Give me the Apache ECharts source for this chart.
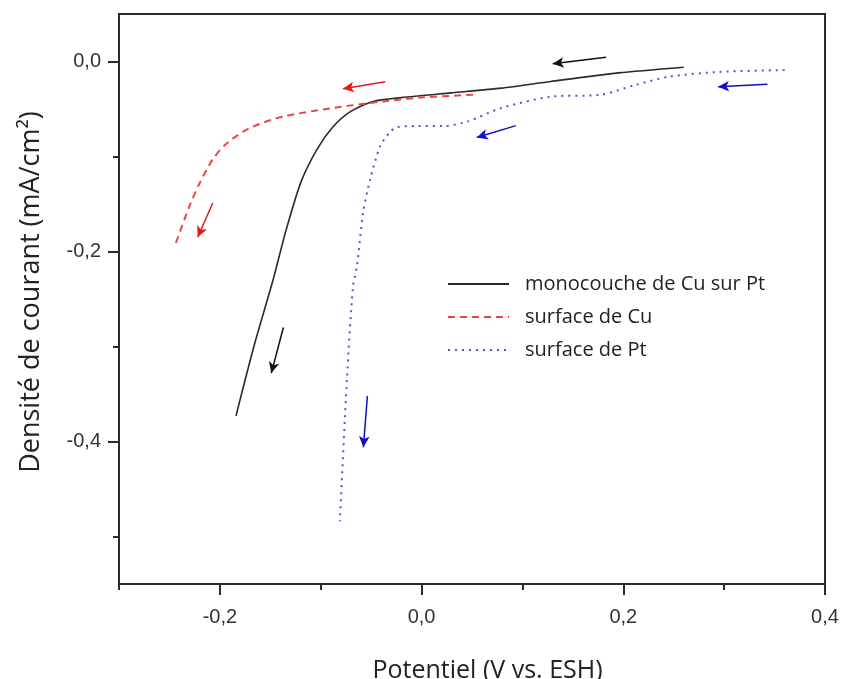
<!DOCTYPE html>
<html>
<head>
<meta charset="utf-8">
<script src="https://cdn.jsdelivr.net/npm/echarts@6/dist/echarts.min.js"></script>
<style>
html,body{margin:0;padding:0;background:#fff;overflow:hidden;}
#chart{width:843px;height:679px;}
</style>
</head>
<body>
<div id="chart"></div>
<script>
// ---- data ----
var seriesNames = ['monocouche de Cu sur Pt', 'surface de Cu', 'surface de Pt'];

var cuPtX = [0.260, 0.195, 0.128, 0.079, 0.029, -0.020, -0.048, -0.071, -0.088, -0.104, -0.120, -0.135, -0.147, -0.166, -0.184];
var cuPtY = [-0.006, -0.012, -0.021, -0.028, -0.033, -0.038, -0.042, -0.053, -0.069, -0.093, -0.128, -0.180, -0.229, -0.299, -0.373];

var cuX = [0.051, 0.000, -0.038, -0.088, -0.137, -0.170, -0.193, -0.207, -0.220, -0.230, -0.245];
var cuY = [-0.035, -0.038, -0.042, -0.049, -0.058, -0.070, -0.086, -0.103, -0.128, -0.152, -0.195];

var ptX = [0.360, 0.295, 0.245, 0.211, 0.178, 0.128, 0.079, 0.046, 0.022, -0.004, -0.024, -0.031, -0.041, -0.051, -0.058, -0.064, -0.068, -0.074, -0.081];
var ptY = [-0.009, -0.011, -0.016, -0.025, -0.035, -0.037, -0.049, -0.063, -0.068, -0.068, -0.069, -0.074, -0.089, -0.124, -0.159, -0.215, -0.237, -0.334, -0.484];

// scan-direction arrows: [tail, head] in data coordinates
var cuPtArrows = [[[0.183, 0.0044], [0.130, -0.0024]], [[-0.137, -0.280], [-0.149, -0.328]]];
var cuArrows = [[[-0.036, -0.0213], [-0.078, -0.0287]], [[-0.207, -0.149], [-0.222, -0.185]]];
var ptArrows = [[[0.343, -0.024], [0.294, -0.0266]], [[0.0935, -0.0675], [0.0547, -0.080]], [[-0.0537, -0.352], [-0.0577, -0.406]]];

var xTickValues = [-0.3, -0.2, -0.1, 0.0, 0.1, 0.2, 0.3, 0.4];
var xLabelValues = [-0.2, 0.0, 0.2, 0.4];
var yTickValues = [-0.5, -0.4, -0.3, -0.2, -0.1, 0.0];
var yLabelValues = [-0.4, -0.2, 0.0];

var xTitle = 'Potentiel (V vs. ESH)';
var yTitle = 'Densité de courant (mA/cm²)';

// ---- build ----
function zip(xs, ys) { return xs.map(function (x, i) { return [x, ys[i]]; }); }
function arrows(list) {
  return list.map(function (a) { return [{ coord: a[0] }, { coord: a[1] }]; });
}
function fmt(v) {
  var s = (Math.abs(v) < 1e-9 ? 0 : v).toFixed(1);
  return s.replace('.', ',');
}

var tickFont = { fontFamily: 'Liberation Sans', fontSize: 20, color: '#333' };
var axisLineStyle = { color: '#2b2b2b', width: 2 };
var tickLine = { color: '#2b2b2b', width: 2 };

function markArrows(list, color) {
  return {
    silent: true,
    symbol: ['none', 'arrow'],
    symbolSize: [8, 11],
    label: { show: false },
    emphasis: { disabled: true },
    lineStyle: { color: color, width: 1.5, type: 'solid' },
    data: arrows(list)
  };
}

function majorTickAxis(pos, min, max, ticks) {
  return {
    type: 'value', min: min, max: max, position: pos,
    axisLine: { show: false, onZero: false },
    axisTick: { show: true, inside: false, length: 11, lineStyle: tickLine, customValues: ticks },
    axisLabel: { show: false }, splitLine: { show: false }
  };
}

var chart = echarts.init(document.getElementById('chart'), null, { renderer: 'canvas' });
chart.setOption({
  backgroundColor: '#fff',
  animation: false,
  grid: {
    left: 119, right: 18, top: 14, bottom: 95, containLabel: false, outerBoundsMode: 'none',
    show: true, borderColor: '#2b2b2b', borderWidth: 2, backgroundColor: 'rgba(0,0,0,0)'
  },
  legend: {
    orient: 'vertical',
    left: 442,
    top: 269,
    itemWidth: 61,
    itemHeight: 14,
    itemGap: 13,
    itemStyle: { opacity: 0 },
    textStyle: { fontFamily: 'Open Sans', fontSize: 20, color: '#222', lineHeight: 20, padding: [0, 0, 0, 11] },
    data: seriesNames
  },
  xAxis: [{
    type: 'value', min: -0.3, max: 0.4, position: 'bottom',
    name: xTitle, nameLocation: 'middle', nameGap: 74,
    nameTextStyle: { fontFamily: 'Open Sans', fontSize: 25, color: '#222', padding: [0, 0, 0, 31] },
    axisLine: { show: true, onZero: false, lineStyle: axisLineStyle },
    axisTick: { show: true, inside: false, length: 6, lineStyle: tickLine, customValues: xTickValues },
    axisLabel: Object.assign({ margin: 23, formatter: fmt, customValues: xLabelValues }, tickFont),
    splitLine: { show: false }
  }, majorTickAxis('bottom', -0.3, 0.4, xLabelValues)],
  yAxis: [{
    type: 'value', min: -0.55, max: 0.05, position: 'left',
    name: yTitle, nameLocation: 'middle', nameGap: 74, nameRotate: 90,
    nameTextStyle: { fontFamily: 'Open Sans', fontSize: 27, color: '#222', padding: [0, 0, 0, 14] },
    axisLine: { show: true, onZero: false, lineStyle: axisLineStyle },
    axisTick: { show: true, inside: false, length: 6, lineStyle: tickLine, customValues: yTickValues },
    axisLabel: Object.assign({ margin: 18, formatter: fmt, customValues: yLabelValues }, tickFont),
    splitLine: { show: false }
  }, majorTickAxis('left', -0.55, 0.05, yLabelValues)],
  series: [{
    name: seriesNames[0], type: 'line', xAxisIndex: 0, yAxisIndex: 0,
    data: zip(cuPtX, cuPtY), showSymbol: false, symbol: 'none', smooth: 0.25,
    itemStyle: { color: '#2a2a2a' },
    lineStyle: { color: '#2a2a2a', width: 1.6, type: 'solid' },
    markLine: markArrows(cuPtArrows, '#111')
  }, {
    name: seriesNames[1], type: 'line', xAxisIndex: 0, yAxisIndex: 0,
    data: zip(cuX, cuY), showSymbol: false, symbol: 'none', smooth: 0.3,
    itemStyle: { color: '#e8474c' },
    lineStyle: { color: '#e8474c', width: 2, type: [7, 5] },
    markLine: markArrows(cuArrows, '#e31a1a')
  }, {
    name: seriesNames[2], type: 'line', xAxisIndex: 0, yAxisIndex: 0,
    data: zip(ptX, ptY), showSymbol: false, symbol: 'none', smooth: 0.25,
    itemStyle: { color: '#5555c8' },
    lineStyle: { color: '#5555c8', width: 2, type: [2, 5] },
    markLine: markArrows(ptArrows, '#1010c8')
  }]
});
</script>
</body>
</html>
